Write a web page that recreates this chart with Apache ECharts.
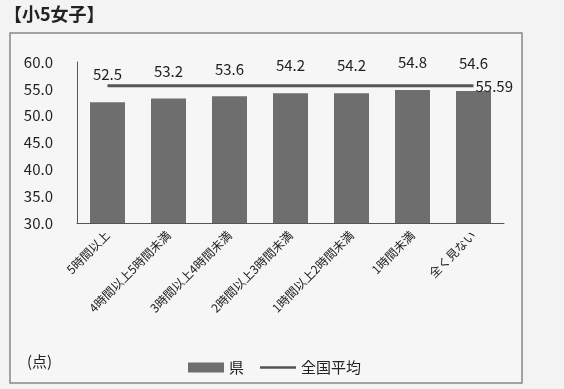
<!DOCTYPE html>
<html>
<head>
<meta charset="utf-8">
<script src="https://cdn.jsdelivr.net/npm/echarts@6/dist/echarts.min.js"></script>
<style>
  html, body { margin: 0; padding: 0; background: #f3f3f3; }
  #chart { width: 564px; height: 389px; }
</style>
</head>
<body>
<div id="chart"></div>
<script>
const categories = ['5時間以上', '4時間以上5時間未満', '3時間以上4時間未満', '2時間以上3時間未満', '1時間以上2時間未満', '1時間未満', '全く見ない'];
const prefValues = [52.5, 53.2, 53.6, 54.2, 54.2, 54.8, 54.6];
const nationalAvg = 55.59;
const nationalValues = categories.map(() => nationalAvg);

const font = '"Noto Sans CJK JP", "Noto Sans", sans-serif';
const chart = echarts.init(document.getElementById('chart'));

chart.setOption({
  backgroundColor: '#f3f3f3',
  animation: false,
  textStyle: { fontFamily: font, color: '#222' },
  graphic: [
    {
      type: 'rect',
      shape: { x: 10, y: 33, width: 512, height: 350 },
      style: { fill: '#f6f6f6', stroke: '#888', lineWidth: 1.5 },
      z: -1
    },
    {
      type: 'text',
      left: 4, top: 5,
      style: { text: '【小5女子】', font: 'bold 18px ' + font, fill: '#222' }
    },
    {
      type: 'text',
      left: 27, top: 354,
      style: { text: '(点)', font: '15px ' + font, fill: '#222' }
    }
  ],
  grid: { left: 77, right: 60, top: 62, bottom: 166 },
  legend: {
    left: 183, top: 355,
    itemGap: 16,
    itemWidth: 36, itemHeight: 10,
    textStyle: { fontSize: 15, fontFamily: font, color: '#222' },
    data: [
      { name: '県', icon: 'rect' },
      { name: '全国平均', icon: 'path://M0,4L36,4L36,6.5L0,6.5Z' }
    ]
  },
  xAxis: {
    type: 'category',
    data: categories,
    axisLine: { lineStyle: { color: '#555', width: 1 } },
    axisTick: { show: false },
    axisLabel: { rotate: 45, fontSize: 12, color: '#222', interval: 0, margin: 10 }
  },
  yAxis: {
    type: 'value',
    min: 30, max: 60, interval: 5,
    axisLine: { show: true, lineStyle: { color: '#555', width: 1 } },
    axisTick: { show: false },
    splitLine: { show: false },
    axisLabel: { formatter: v => v.toFixed(1), fontSize: 15, color: '#222', margin: 24 }
  },
  series: [
    {
      name: '県',
      type: 'bar',
      data: prefValues,
      barWidth: 35,
      itemStyle: { color: '#6e6e6e' },
      label: {
        show: true, position: 'top', distance: 20,
        formatter: p => p.value.toFixed(1),
        fontSize: 15, color: '#222'
      }
    },
    {
      name: '全国平均',
      type: 'line',
      data: nationalValues,
      symbol: 'none',
      lineStyle: { color: '#555', width: 3 },
      itemStyle: { color: '#555' },
      endLabel: {
        show: true, distance: 2, offset: [0, 1],
        formatter: p => p.value.toFixed(2),
        fontSize: 15, color: '#222'
      }
    }
  ]
});
</script>
</body>
</html>
